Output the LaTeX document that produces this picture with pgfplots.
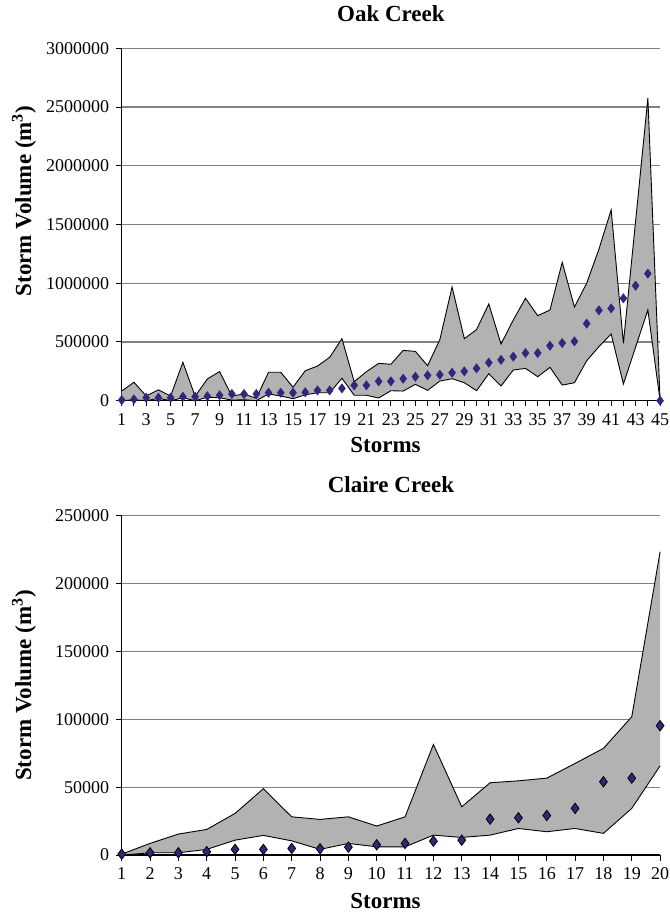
\documentclass[border=0pt]{standalone}
\usepackage{pgfplots}
\pgfplotsset{compat=1.18}
\usepackage{pgfplotstable}
\usepgfplotslibrary{fillbetween}
\usepackage{fontspec}
\setmainfont{Liberation Serif}

\definecolor{band}{RGB}{178,178,178}
\definecolor{diam}{RGB}{48,40,125}

% Oak Creek: lower bound, mean, upper bound per storm
\pgfplotstableread{
n lo mean hi
1 0 5000 82000
2 8000 12000 157000
3 0 25000 41000
4 20000 25000 92000
5 0 25000 40000
6 25000 34000 327000
7 0 34000 38000
8 30000 38000 185000
9 25000 46000 248000
10 5000 57000 40000
11 8000 57000 57000
12 0 57000 20000
13 57000 68000 242000
14 40000 68000 242000
15 17000 68000 115000
16 50000 72000 255000
17 68000 88000 295000
18 68000 88000 370000
19 191000 105000 528000
20 46000 131000 162000
21 46000 131000 247000
22 23000 165000 318000
23 85000 165000 310000
24 82000 187000 428000
25 139000 204000 420000
26 88000 216000 298000
27 167000 221000 520000
28 187000 238000 968000
29 153000 250000 528000
30 85000 275000 605000
31 230000 324000 824000
32 125000 348000 482000
33 261000 375000 687000
34 275000 406000 872000
35 204000 406000 724000
36 284000 468000 772000
37 133000 491000 1178000
38 153000 505000 797000
39 340000 656000 1000000
40 460000 769000 1290000
41 568000 786000 1624000
42 142000 872000 489000
43 457000 979000 1532000
44 772000 1082000 2575000
45 0 0 0
}\oak

% Claire Creek
\pgfplotstableread{
n lo mean hi
1 0 700 700
2 1700 1700 8600
3 1700 1700 15500
4 4200 2500 18900
5 11000 4200 30700
6 14500 4200 48900
7 10500 4900 28200
8 4200 4700 26300
9 8600 5900 28200
10 6100 7600 21400
11 6100 8600 28200
12 14700 10300 81500
13 13000 11000 35600
14 14700 26500 53300
15 19600 27500 54700
16 17200 29200 56700
17 19600 34400 67500
18 16000 54000 78600
19 34400 56700 101900
20 65800 95300 223400
}\claire

\pgfplotsset{
  stormaxis/.style={
    scale only axis,
    width=269.2pt,
    axis x line*=bottom,
    axis y line*=left,
    axis line style={black, line width=0.6pt},
    tick align=outside,
    major tick length=2.8pt,
    minor tick length=2.8pt,
    tick style={black, line width=0.5pt},
    ymajorgrids,
    grid style={gray, line width=0.6pt},
    ymin=0,
    clip=false,
    scaled y ticks=false,
    yticklabel style={/pgf/number format/.cd, fixed, 1000 sep={}, assume math mode=true},
    xticklabel style={/pgf/number format/assume math mode=true},
    tick label style={font=\fontsize{9}{10}\selectfont},
    label style={font=\bfseries\fontsize{11.5}{13}\selectfont},
    % cancel the default 6pt lift of the title
    title style={font=\bfseries\fontsize{11.5}{13}\selectfont, anchor=center, yshift=-6pt},
    xlabel={Storms},
    ylabel={Storm Volume (m\textsuperscript{3})},
  },
}

\begin{document}
\begin{tikzpicture}
\begin{axis}[stormaxis,
    at={(0,0)}, anchor=south west,
    height=176.2pt,
    xmin=1, xmax=45,
    xtick={1,3,...,45},
    minor xtick={2,4,...,44},
    ymax=3000000,
    ytick={0,500000,...,3000000},
    title={Oak Creek},
    title style={at={(axis description cs:0.5,1.097)}},
    xlabel style={at={(axis description cs:0.49,-0.126)}, anchor=center},
    ylabel style={at={(axis description cs:-0.1815,0.567)}, anchor=center},
]
\addplot[name path=hi, black, line width=0.45pt] table[x=n, y=hi] {\oak};
\addplot[name path=lo, black, line width=0.45pt] table[x=n, y=lo] {\oak};
\addplot[band] fill between[of=hi and lo];
\addplot[only marks, mark=diamond*, mark size=2.2pt, mark options={fill=diam, draw=diam}] table[x=n, y=mean] {\oak};
\end{axis}

\begin{axis}[stormaxis,
    at={(0,-57.5pt)}, anchor=north west,
    height=169.7pt,
    xmin=1, xmax=20,
    xtick={1,...,20},
    ymax=250000,
    ytick={0,50000,...,250000},
    title={Claire Creek},
    title style={at={(axis description cs:0.5,1.0905)}},
    xlabel style={at={(axis description cs:0.49,-0.136)}, anchor=center},
    ylabel style={at={(axis description cs:-0.1815,0.5)}, anchor=center},
]
\addplot[name path=hi, black, line width=0.45pt] table[x=n, y=hi] {\claire};
\addplot[name path=lo, black, line width=0.45pt] table[x=n, y=lo] {\claire};
\addplot[band] fill between[of=hi and lo];
\addplot[only marks, mark=diamond*, mark size=2.6pt, mark options={fill=diam, draw=black, line width=0.4pt}] table[x=n, y=mean] {\claire};
\end{axis}

% page frame matching the reference proportions
\pgfresetboundingbox
\path[use as bounding box] (-60.85pt,200.35pt) rectangle (273.65pt,-257.15pt);
\end{tikzpicture}
\end{document}
